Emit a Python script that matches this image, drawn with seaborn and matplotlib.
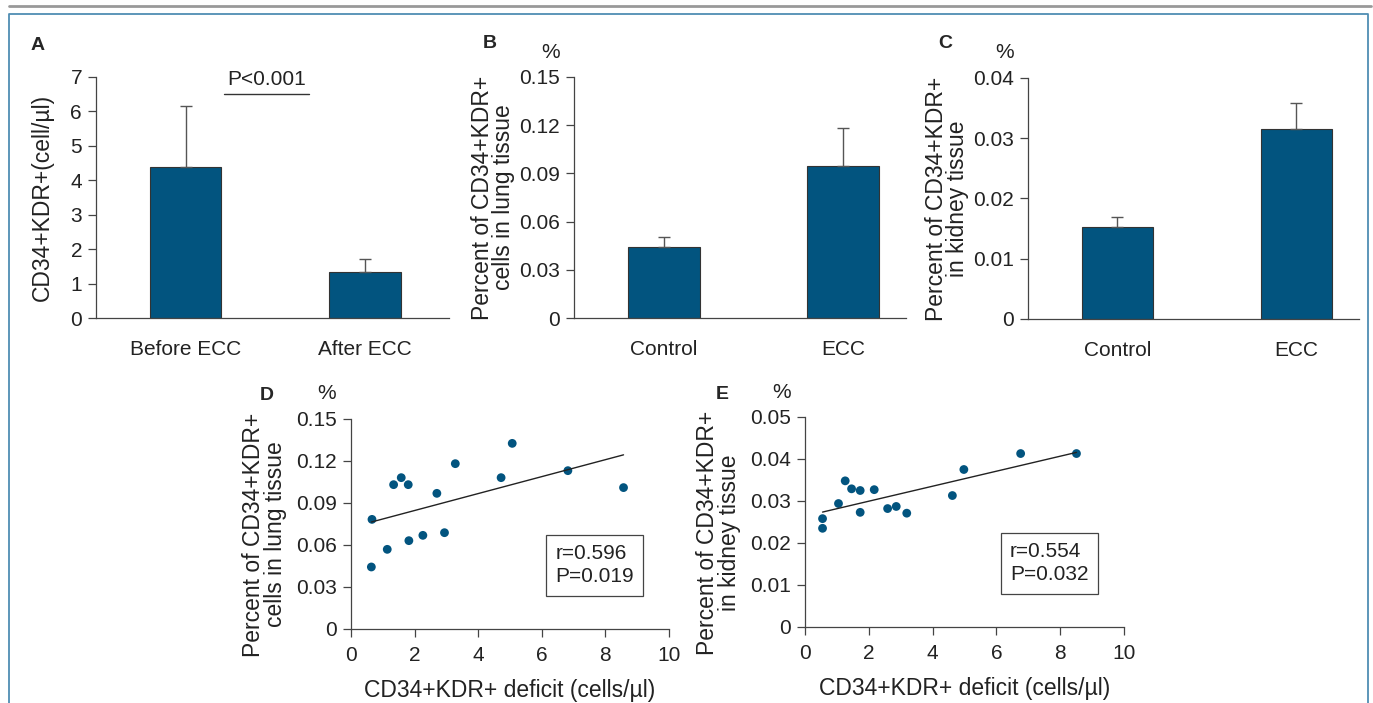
import numpy as np
import pandas as pd
import matplotlib
matplotlib.use("Agg")
import matplotlib.pyplot as plt
from matplotlib.lines import Line2D
import seaborn as sns

# panel A - circulating cells
a_groups = ["Before ECC", "After ECC"]
a_mean = [4.39, 1.35]
a_sd = [1.77, 0.36]

# panel B - lung tissue
b_groups = ["Control", "ECC"]
b_mean = [0.0444, 0.0944]
b_sd = [0.0062, 0.0239]

# panel C - kidney tissue
c_groups = ["Control", "ECC"]
c_mean = [0.0152, 0.0315]
c_sd = [0.0017, 0.0043]

# panel D - deficit vs lung
d_x = [0.66, 0.64, 1.14, 1.34, 1.58, 1.80, 1.82, 2.26, 2.70, 2.94, 3.28, 4.72, 5.07, 6.82, 8.57]
d_y = [0.0783, 0.0443, 0.0569, 0.1031, 0.1081, 0.1031, 0.0631, 0.0669, 0.0969, 0.0688,
       0.1181, 0.1081, 0.1326, 0.1131, 0.1010]

# panel E - deficit vs kidney
e_x = [0.55, 0.55, 1.05, 1.26, 1.46, 1.73, 1.73, 2.17, 2.59, 2.86, 3.19, 4.62, 4.98, 6.76, 8.51]
e_y = [0.0258, 0.0235, 0.0294, 0.0348, 0.0329, 0.0325, 0.0273, 0.0327, 0.0282, 0.0287,
       0.0271, 0.0313, 0.0375, 0.0413, 0.0413]

sns.set_style("ticks")
plt.rcParams["font.family"] = ["Liberation Sans", "DejaVu Sans"]
plt.rcParams["axes.edgecolor"] = "#444444"
plt.rcParams["axes.linewidth"] = 0.9
plt.rcParams["xtick.color"] = "#444444"
plt.rcParams["ytick.color"] = "#444444"
plt.rcParams["xtick.labelcolor"] = "#222222"
plt.rcParams["ytick.labelcolor"] = "#222222"

BLUE = "#02547f"
TXT = "#222222"
FS = 15      # tick labels
LFS = 16.5   # axis labels

W, H = 1373, 703
fig = plt.figure(figsize=(W / 100, H / 100), dpi=100)


def px_axes(left, top, right, bottom):
    return fig.add_axes([left / W, 1 - bottom / H, (right - left) / W, (bottom - top) / H])


def bar_panel(ax, groups, mean, sd, ymax, yticks, ytlabels, xlim):
    df = pd.DataFrame({"group": groups, "value": mean})
    sns.barplot(data=df, x="group", y="value", ax=ax, color=BLUE, width=0.4,
                edgecolor="#333333", linewidth=0.8, saturation=1)
    ax.errorbar(range(len(groups)), mean, yerr=[np.zeros(len(sd)), sd], fmt="none",
                ecolor="#555555", elinewidth=1, capsize=4, capthick=1)
    ax.set_ylim(0, ymax)
    ax.set_xlim(*xlim)
    ax.set_yticks(yticks)
    ax.set_yticklabels(ytlabels)
    ax.set_xlabel("")
    sns.despine(ax=ax)
    ax.tick_params(axis="x", length=0, pad=16, labelsize=FS)
    ax.tick_params(axis="y", length=6, width=0.9, pad=4, labelsize=FS)


# A
axA = px_axes(96, 77, 449, 318)
bar_panel(axA, a_groups, a_mean, a_sd, 7, range(8), [str(i) for i in range(8)], (-0.5, 1.47))
axA.set_ylabel("CD34+KDR+(cell/µl)", fontsize=LFS, color=TXT, labelpad=12)
axA.plot([0.215, 0.69], [6.5, 6.5], color="#333333", lw=1)
axA.text(0.45, 6.93, "P<0.001", ha="center", va="center", fontsize=FS, color=TXT)
fig.text(38 / W, 1 - 45 / H, "A", fontsize=14, fontweight="bold", ha="center", va="center")

# B
axB = px_axes(574, 77, 906, 318)
bt = [0, 0.03, 0.06, 0.09, 0.12, 0.15]
bar_panel(axB, b_groups, b_mean, b_sd, 0.15, bt, ["0", "0.03", "0.06", "0.09", "0.12", "0.15"], (-0.5, 1.35))
axB.set_ylabel("Percent of CD34+KDR+\ncells in lung tissue", fontsize=LFS, color=TXT,
               labelpad=3, linespacing=0.92)
fig.text(490 / W, 1 - 43 / H, "B", fontsize=14, fontweight="bold", ha="center", va="center")
fig.text(551 / W, 1 - 52 / H, "%", fontsize=FS, color=TXT, ha="center", va="center")

# C
axC = px_axes(1028, 78, 1359, 319)
ct = [0, 0.01, 0.02, 0.03, 0.04]
bar_panel(axC, c_groups, c_mean, c_sd, 0.04, ct, ["0", "0.01", "0.02", "0.03", "0.04"], (-0.5, 1.35))
axC.set_ylabel("Percent of CD34+KDR+\nin kidney tissue", fontsize=LFS, color=TXT,
               labelpad=3, linespacing=0.92)
fig.text(945 / W, 1 - 43 / H, "C", fontsize=14, fontweight="bold", ha="center", va="center")
fig.text(1005 / W, 1 - 52 / H, "%", fontsize=FS, color=TXT, ha="center", va="center")


def scatter_panel(ax, x, y, ymax, yticks, ytlabels, ylabel, stats):
    sns.regplot(x=x, y=y, ax=ax, ci=None, color=BLUE,
                scatter_kws={"s": 40, "color": BLUE, "edgecolor": "none", "alpha": 1},
                line_kws={"color": "#222222", "lw": 1})
    ax.set_xlim(0, 10)
    ax.set_ylim(0, ymax)
    ax.set_xticks(range(0, 11, 2))
    ax.set_yticks(yticks)
    ax.set_yticklabels(ytlabels)
    sns.despine(ax=ax)
    ax.tick_params(axis="x", length=6, width=0.9, pad=6, labelsize=FS)
    ax.tick_params(axis="y", length=6, width=0.9, pad=4, labelsize=FS)
    ax.set_xlabel("CD34+KDR+ deficit (cells/µl)", fontsize=LFS, color=TXT, labelpad=10.5)
    ax.set_ylabel(ylabel, fontsize=LFS, color=TXT, labelpad=7, linespacing=0.92)
    ax.yaxis.label.set_y(0.45)
    ax.text(0.643, 0.405, stats, transform=ax.transAxes, ha="left", va="top",
            fontsize=FS, color=TXT, linespacing=1.3,
            bbox=dict(boxstyle="square,pad=0.45", fc="white", ec="#444444", lw=0.9))


# D
axD = px_axes(351, 419, 669, 629)
scatter_panel(axD, d_x, d_y, 0.15, bt, ["0", "0.03", "0.06", "0.09", "0.12", "0.15"],
              "Percent of CD34+KDR+\ncells in lung tissue", "r=0.596\nP=0.019")
fig.text(267 / W, 1 - 396 / H, "D", fontsize=14, fontweight="bold", ha="center", va="center")
fig.text(327 / W, 1 - 393 / H, "%", fontsize=FS, color=TXT, ha="center", va="center")

# E
axE = px_axes(805, 417, 1124, 627)
et = [0, 0.01, 0.02, 0.03, 0.04, 0.05]
scatter_panel(axE, e_x, e_y, 0.05, et, ["0", "0.01", "0.02", "0.03", "0.04", "0.05"],
              "Percent of CD34+KDR+\nin kidney tissue", "r=0.554\nP=0.032")
fig.text(722 / W, 1 - 395 / H, "E", fontsize=14, fontweight="bold", ha="center", va="center")
fig.text(782 / W, 1 - 392 / H, "%", fontsize=FS, color=TXT, ha="center", va="center")

# frame
fig.add_artist(Line2D([9 / W, 1371 / W], [1 - 6 / H, 1 - 6 / H], color="#999999", lw=2))
fig.add_artist(Line2D([9 / W, 9 / W, 1368 / W, 1368 / W], [0, 1 - 14 / H, 1 - 14 / H, 0],
                      color="#4f8db3", lw=1.3))

fig.savefig("out.png", dpi=100)
